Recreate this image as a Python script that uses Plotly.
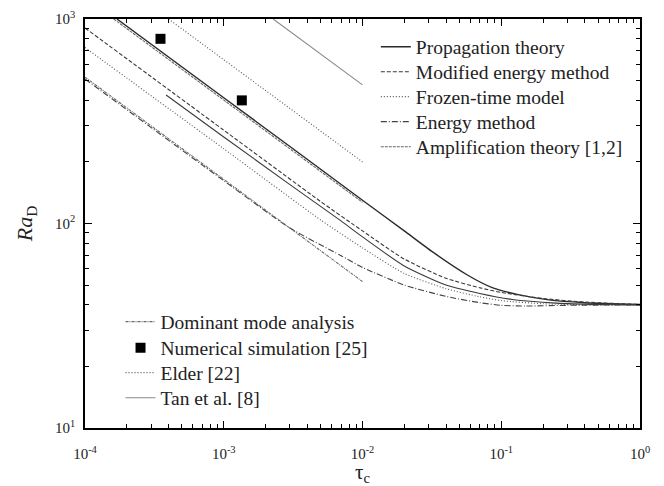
import plotly.graph_objects as go

# ---------------- data ----------------
prop_tau = [1.7e-4, 1e-3, 3e-3, 1e-2, 0.02, 0.032, 0.057, 0.087, 0.13, 0.22, 0.4, 1.0]
prop_ra = [1000, 412, 238, 130, 92, 72.6, 56, 48.4, 45, 42.3, 41, 40.2]

prop2_tau = [3.84e-4, 1e-3, 3e-3, 7e-3, 1e-2, 0.02, 0.04, 0.07, 0.12, 0.25, 0.5, 1.0]
prop2_ra = [425, 265, 155, 103, 86, 62, 50, 45.5, 42.5, 40.8, 40.2, 40]

mod_tau = [1e-4, 1e-3, 5e-3, 1e-2, 0.02, 0.04, 0.07, 0.1, 0.2, 0.4, 1.0]
mod_ra = [904, 286, 128, 92, 67, 54, 48.5, 46, 43, 41.3, 40.2]

frozen_tau = [1e-4, 1e-3, 5e-3, 1e-2, 0.02, 0.04, 0.07, 0.1, 0.2, 0.5, 1.0]
frozen_ra = [725, 232, 104, 76, 57, 48, 43.8, 42, 40.5, 40, 40]

energy_tau = [1e-4, 1e-3, 3e-3, 6.9e-3, 1e-2, 0.02, 0.04, 0.07, 0.1, 0.15, 0.3, 1.0]
energy_ra = [509, 162, 95, 70, 61, 50, 44, 41, 39.8, 39.5, 39.8, 40]

amp_tau = [1.61e-4, 1e-2]
amp_ra = [1000, 127]

dom_tau = [1e-4, 1e-2]
dom_ra = [520, 52]

num_tau = [3.5e-4, 1.35e-3]
num_ra = [800, 400]

elder_tau = [4e-4, 1e-2]
elder_ra = [1000, 200]

tan_tau = [2.27e-3, 1e-2]
tan_ra = [1000, 476]

x_ticks = [1e-4, 1e-3, 1e-2, 1e-1, 1e0]
x_ticktext = ["10<sup>-4</sup>", "10<sup>-3</sup>", "10<sup>-2</sup>", "10<sup>-1</sup>", "10<sup>0</sup>"]
y_ticks = [1e1, 1e2, 1e3]
y_ticktext = ["10<sup>1</sup>", "10<sup>2</sup>", "10<sup>3</sup>"]

FONT = "Liberation Serif, Times New Roman, serif"
LEG_SIZE = 19.5

fig = go.Figure()

def add_line(x, y, name, color, dash, width=1.0, legend="legend", showlegend=True, shape="spline"):
    fig.add_trace(go.Scatter(
        x=x, y=y, mode="lines", name=name,
        line=dict(color=color, dash=dash, width=width, shape=shape, smoothing=0.6 if shape == "spline" else None),
        legend=legend, showlegend=showlegend))

# top-right legend entries (one legend box per entry so the row spacing matches)
add_line(prop_tau, prop_ra, "Propagation theory", "#2a2a2a", "solid", 1.4, legend="legend")
add_line(mod_tau, mod_ra, "Modified energy method", "#3a3a3a", "4px,2px", 1.1, legend="legend2")
add_line(frozen_tau, frozen_ra, "Frozen-time model", "#555555", "1px,2px", 1.1, legend="legend3")
add_line(energy_tau, energy_ra, "Energy method", "#444444", "6px,2px,1px,2px", 1.1, legend="legend4")
add_line(amp_tau, amp_ra, "Amplification theory [1,2]", "#6a6a6a", "3px,1px", 1.1, legend="legend5", shape="linear")
add_line(prop2_tau, prop2_ra, "Propagation theory (2)", "#3a3a3a", "solid", 1.1, showlegend=False)

# bottom-left legend entries
add_line(dom_tau, dom_ra, "Dominant mode analysis", "#6a6a6a", "3px,1px,1px,1px", 1.1, legend="legend6", shape="linear")
fig.add_trace(go.Scatter(
    x=num_tau, y=num_ra, mode="markers", name="Numerical simulation [25]",
    marker=dict(symbol="square", size=10, color="black"), legend="legend7"))
add_line(elder_tau, elder_ra, "Elder [22]", "#555555", "1px,2px", 1.1, legend="legend8", shape="linear")
add_line(tan_tau, tan_ra, "Tan et al. [8]", "#8a8a8a", "solid", 1.1, legend="legend9", shape="linear")

axis_common = dict(
    type="log", showgrid=False, zeroline=False, automargin=False,
    showline=True, linecolor="black", linewidth=1.6, mirror="ticks",
    ticks="inside", ticklen=7, tickwidth=1.4, tickcolor="black",
    tickfont=dict(family=FONT, size=15, color="#222"),
)

minor_x = [m * 10 ** e for e in range(-4, 0) for m in range(2, 10)]
minor_y = [m * 10 ** e for e in range(1, 3) for m in range(2, 10)]

fig.update_xaxes(
    **axis_common, range=[-4, 0], tickmode="array", tickvals=x_ticks, ticktext=x_ticktext,
    ticklabelstandoff=11,
    minor=dict(ticks="inside", ticklen=4, tickwidth=1.2, tickcolor="black", tickmode="array", tickvals=minor_x),
    title=dict(text="τ<sub>c</sub>", font=dict(family=FONT, size=21, color="#222"), standoff=6),
)
fig.update_yaxes(
    **axis_common, range=[1, 3], tickmode="array", tickvals=y_ticks, ticktext=y_ticktext,
    ticklabelstandoff=5,
    minor=dict(ticks="inside", ticklen=4, tickwidth=1.2, tickcolor="black", tickmode="array", tickvals=minor_y),
    title=dict(text="<i>Ra</i><sub>D</sub>", font=dict(family=FONT, size=22, color="#222"), standoff=16),
)

def leg(x, y):
    return dict(bgcolor="rgba(0,0,0,0)", borderwidth=0, xanchor="left", yanchor="middle",
                x=x, y=y, font=dict(family=FONT, size=LEG_SIZE, color="#222"))

top_x, bot_x = 0.524, 0.064
top_y = [0.9315, 0.8704, 0.8093, 0.7482, 0.6870]
bot_y = [0.2592, 0.1956, 0.1345, 0.0733]

fig.update_layout(
    width=664, height=486,
    margin=dict(l=85, r=24, t=19, b=58),
    paper_bgcolor="white", plot_bgcolor="white",
    font=dict(family=FONT),
    legend=leg(top_x, top_y[0]),
    legend2=leg(top_x, top_y[1]),
    legend3=leg(top_x, top_y[2]),
    legend4=leg(top_x, top_y[3]),
    legend5=leg(top_x, top_y[4]),
    legend6=leg(bot_x, bot_y[0]),
    legend7=leg(bot_x, bot_y[1]),
    legend8=leg(bot_x, bot_y[2]),
    legend9=leg(bot_x, bot_y[3]),
)

fig.write_html("out.html")
